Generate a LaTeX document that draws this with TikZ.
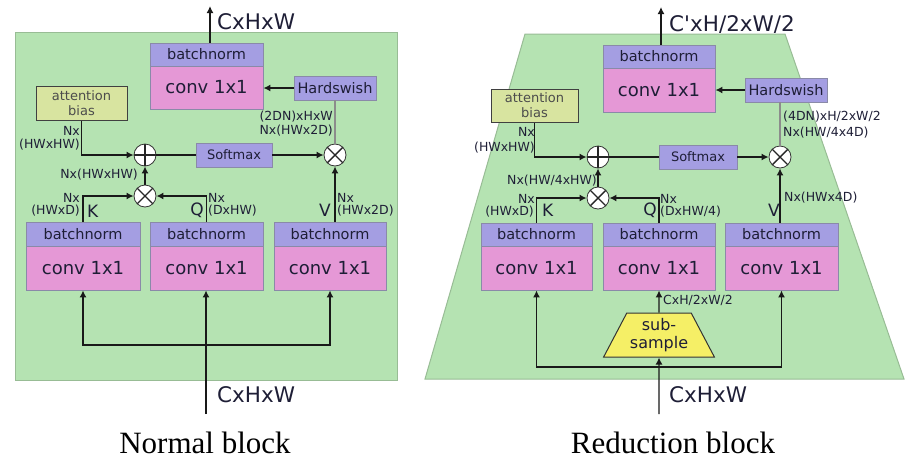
\documentclass[tikz,border=0pt]{standalone}
\usepackage{fontspec}
\setmainfont{DejaVu Sans}[Ligatures=TeXOff]
\newfontfamily\capfont{Liberation Serif}
\usetikzlibrary{shapes.geometric,arrows.meta,calc}
\definecolor{grn}{HTML}{B5E3B2}
\definecolor{grnb}{HTML}{98BC95}
\definecolor{bnc}{HTML}{A49EE2}
\definecolor{cvc}{HTML}{E598D6}
\definecolor{bxc}{HTML}{8A8AA8}
\definecolor{abc}{HTML}{D8E4A0}
\definecolor{ssc}{HTML}{F5EF66}
\definecolor{txc}{HTML}{1E1E36}
\begin{document}
\begin{tikzpicture}[x=1pt,y=-1pt,
  bnbox/.style={draw=bxc, fill=bnc, line width=0.8pt, inner sep=0, minimum width=#1, text=txc, font=\fontsize{14.5}{16}\selectfont},
  cvbox/.style={draw=bxc, fill=cvc, line width=0.8pt, inner sep=0, minimum width=#1, text=txc, font=\fontsize{18}{20}\selectfont},
  smbox/.style={draw=bxc, fill=bnc, line width=0.8pt, inner sep=0, minimum width=#1, minimum height=24, text=txc, font=\fontsize{13}{15}\selectfont},
  abbox/.style={draw=black!75, fill=abc, line width=1pt, inner sep=0, minimum width=#1, align=center, text=black!70, font=\fontsize{13}{15}\selectfont},
  plusc/.style={circle, draw=black!80, fill=white, line width=0.8pt, minimum size=22, inner sep=0,
    path picture={\draw[line width=1.4pt, black!85] (path picture bounding box.north) -- (path picture bounding box.south)
      (path picture bounding box.west) -- (path picture bounding box.east);}},
  timesc/.style={circle, draw=black!80, fill=white, line width=0.8pt, minimum size=22, inner sep=0,
    path picture={\draw[line width=1.4pt, black!85] (path picture bounding box.north west) -- (path picture bounding box.south east)
      (path picture bounding box.north east) -- (path picture bounding box.south west);}},
  lbl/.style={inner sep=0, text=txc, font=\fontsize{12.5}{14}\selectfont},
  kqv/.style={inner sep=0, text=txc, font=\fontsize{17}{19}\selectfont},
  big/.style={inner sep=0, text=txc, font=\fontsize{21.5}{24}\selectfont},
  capt/.style={inner sep=0, text=black, font=\capfont\fontsize{31}{33}\selectfont},
  arr/.style={-{Latex[length=7pt,width=7pt]}, line width=1.4pt, black!90},
  ln/.style={line width=1.4pt, black!90},
  gln/.style={line width=1.4pt, black!45}
]
\useasboundingbox (0,0) rectangle (907,459);

% ---------------- Normal block ----------------
\fill[grn, draw=grnb, line width=1pt] (15,32) rectangle (397,380);

\node[bnbox=113, minimum height=23] (bnT) at (206.5,54.5) {batchnorm};
\node[cvbox=113, minimum height=43] (cvT) at (206.5,87.5) {conv 1x1};
\node[bnbox=82, minimum height=24] (hsL) at (335,88) {Hardswish};
\node[abbox=91, minimum height=34] (abL) at (81.5,103) {attention\\bias};
\node[smbox=76] (smL) at (234,155) {Softmax};
\node[plusc] (pL) at (145,155) {};
\node[timesc] (tR) at (335,155) {};
\node[timesc] (tL) at (145,196) {};

\node[bnbox=114, minimum height=24] (bnK) at (83,234) {batchnorm};
\node[cvbox=114, minimum height=44] (cvK) at (83,268) {conv 1x1};
\node[bnbox=113, minimum height=24] (bnQ) at (206.5,234) {batchnorm};
\node[cvbox=113, minimum height=44] (cvQ) at (206.5,268) {conv 1x1};
\node[bnbox=112, minimum height=24] (bnV) at (330,234) {batchnorm};
\node[cvbox=112, minimum height=44] (cvV) at (330,268) {conv 1x1};

\coordinate (oL) at (210,6);
\coordinate (iL) at (206,414);
\coordinate (jL) at (206,345);

\draw[arr] (bnT.north -| oL) -- (oL);
\draw[arr] (hsL.west) -- (cvT.east |- hsL.west);
\draw[arr] (abL.south) |- (pL);
\draw[ln] (pL) -- (smL);
\draw[arr] (smL) -- (tR);
\draw[gln] (tR) -- (tR |- hsL.south);
\draw[arr] (tL) -- (pL);
\draw[arr] (bnK.north) |- (tL);
\draw[arr] (bnQ.north) |- (tL);
\draw[arr] (bnV.north -| tR) -- (tR);
\draw[arr] (iL) -- (iL |- cvQ.south);
\draw[arr] (jL) -| (cvK.south);
\draw[arr] (jL) -| (cvV.south);

\node[big, anchor=west] (tOutL) at (217,22) {CxHxW};
\node[big, anchor=west] (tInL) at (217,395) {CxHxW};
\node[lbl, anchor=east] (l1) at (80,131) {Nx};
\node[lbl, anchor=east] (l2) at (80,145) {(HWxHW)};
\node[lbl, anchor=east] (l3) at (333,117) {(2DN)xHxW};
\node[lbl, anchor=east] (l4) at (333,131) {Nx(HWx2D)};
\node[lbl, anchor=east] (l5) at (138,175) {Nx(HWxHW)};
\node[lbl, anchor=east] (l6) at (80,198) {Nx};
\node[lbl, anchor=east] (l7) at (80,211) {(HWxD)};
\node[kqv, anchor=west] (lK) at (87,211) {K};
\node[kqv, anchor=east] (lQ) at (204,210) {Q};
\node[lbl, anchor=west] (l8) at (208,198) {Nx};
\node[lbl, anchor=west] (l9) at (208,211) {(DxHW)};
\node[kqv, anchor=east] (lV) at (331,210) {V};
\node[lbl, anchor=west] (l10) at (337,198) {Nx};
\node[lbl, anchor=west] (l11) at (337,211) {(HWx2D)};
\node[capt] (capL) at (205,443) {Normal block};

% ---------------- Reduction block ----------------
\fill[grn, draw=grnb, line width=1pt] (525,34) -- (785,34) -- (904,379) -- (425,379) -- cycle;

\node[bnbox=112, minimum height=23] (bnT2) at (659,56.5) {batchnorm};
\node[cvbox=112, minimum height=44] (cvT2) at (659,90) {conv 1x1};
\node[bnbox=82, minimum height=24] (hsR2) at (786,90) {Hardswish};
\node[abbox=87, minimum height=33] (abR) at (534.5,105.5) {attention\\bias};
\node[smbox=78] (smR) at (698,157) {Softmax};
\node[plusc] (p2) at (598,157) {};
\node[timesc] (tR2) at (780,157) {};
\node[timesc] (tL2) at (598,198) {};

\node[bnbox=111, minimum height=23] (bnK2) at (536.5,234.5) {batchnorm};
\node[cvbox=111, minimum height=44] (cvK2) at (536.5,268) {conv 1x1};
\node[bnbox=112, minimum height=23] (bnQ2) at (659,234.5) {batchnorm};
\node[cvbox=112, minimum height=44] (cvQ2) at (659,268) {conv 1x1};
\node[bnbox=113, minimum height=23] (bnV2) at (781.5,234.5) {batchnorm};
\node[cvbox=113, minimum height=44] (cvV2) at (781.5,268) {conv 1x1};

\node[trapezium, trapezium stretches=true, trapezium left angle=58, trapezium right angle=58,
  minimum width=112, minimum height=44, draw=black!80, fill=ssc, line width=1pt, align=center,
  inner sep=0, text=txc, font=\fontsize{16}{18}\selectfont] (sub) at (659,335) {sub-\\sample};

\coordinate (oR) at (661,7);
\coordinate (iR) at (659,414);
\coordinate (jR) at (659,367);

\draw[arr] (bnT2.north -| oR) -- (oR);
\draw[arr] (hsR2.west) -- (cvT2.east |- hsR2.west);
\draw[arr] (abR.south) |- (p2);
\draw[ln] (p2) -- (smR);
\draw[arr] (smR) -- (tR2);
\draw[gln] (tR2) -- (tR2 |- hsR2.south);
\draw[arr] (tL2) -- (p2);
\draw[arr] (bnK2.north) |- (tL2);
\draw[arr] (bnQ2.north) |- (tL2);
\draw[arr] (bnV2.north -| tR2) -- (tR2);
\draw[arr] (iR) -- (sub.south);
\draw[arr] (sub.north) -- (cvQ2.south);
\draw[arr] (jR) -| (cvK2.south);
\draw[arr] (jR) -| (cvV2.south);

\node[big, anchor=west] (tOutR) at (669,25) {C'xH/2xW/2};
\node[big, anchor=west] (tInR) at (669,395) {CxHxW};
\node[lbl, anchor=east] (r1) at (535,132) {Nx};
\node[lbl, anchor=east] (r2) at (535,148) {(HWxHW)};
\node[lbl, anchor=west] (r3) at (783,117) {(4DN)xH/2xW/2};
\node[lbl, anchor=west] (r4) at (783,133) {Nx(HW/4x4D)};
\node[lbl, anchor=east] (r5) at (597,181) {Nx(HW/4xHW)};
\node[lbl, anchor=east] (r6) at (535,199) {Nx};
\node[lbl, anchor=east] (r7) at (534,212) {(HWxD)};
\node[kqv, anchor=west] (rK) at (542,210) {K};
\node[kqv, anchor=east] (rQ) at (657,210) {Q};
\node[lbl, anchor=west] (r8) at (660,199) {Nx};
\node[lbl, anchor=west] (r9) at (660,212) {(DxHW/4)};
\node[kqv, anchor=east] (rV) at (780,210) {V};
\node[lbl, anchor=west] (r10) at (784,198) {Nx(HWx4D)};
\node[lbl, anchor=west] (r11) at (663,300) {CxH/2xW/2};
\node[capt] (capR) at (673,443) {Reduction block};
\end{tikzpicture}
\end{document}
